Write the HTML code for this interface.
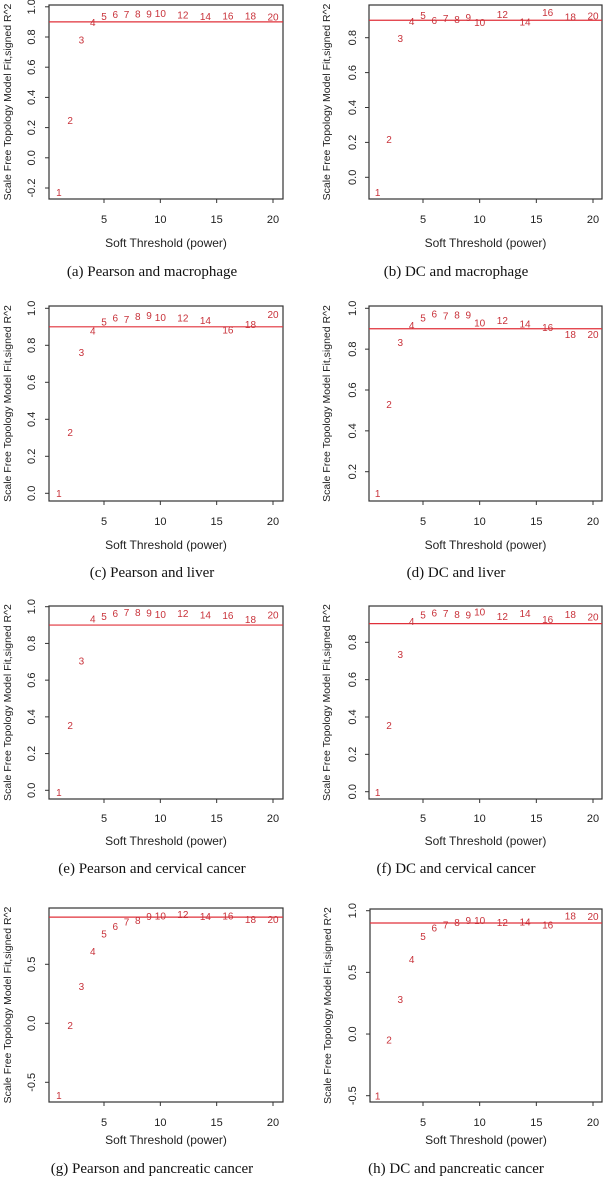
<!DOCTYPE html>
<html><head><meta charset="utf-8"><style>
html,body{margin:0;padding:0;background:#fff;}
svg{display:block;}
</style></head><body>
<svg id="fig" width="608" height="1179" viewBox="0 0 608 1179" xmlns="http://www.w3.org/2000/svg"></svg>
<script>
const powers = [1,2,3,4,5,6,7,8,9,10,12,14,16,18,20];
const xTicks = [5,10,15,20];
const seriesA = [-0.23,0.246,0.78,0.895,0.935,0.948,0.948,0.952,0.952,0.957,0.945,0.935,0.94,0.94,0.933];
const seriesB = [-0.088,0.218,0.795,0.894,0.926,0.898,0.91,0.905,0.917,0.886,0.934,0.89,0.944,0.92,0.925];
const seriesC = [0,0.328,0.76,0.876,0.926,0.948,0.94,0.955,0.962,0.951,0.948,0.933,0.883,0.912,0.966];
const seriesD = [0.094,0.53,0.832,0.917,0.953,0.972,0.962,0.966,0.966,0.927,0.94,0.923,0.907,0.871,0.871];
const seriesE = [-0.011,0.352,0.704,0.933,0.947,0.962,0.969,0.969,0.965,0.958,0.962,0.955,0.951,0.929,0.955];
const seriesF = [-0.004,0.354,0.736,0.911,0.946,0.957,0.954,0.95,0.946,0.961,0.939,0.954,0.921,0.95,0.936];
const seriesG = [-0.61,-0.017,0.311,0.61,0.757,0.819,0.859,0.87,0.904,0.91,0.921,0.904,0.91,0.881,0.881];
const seriesH = [-0.503,-0.049,0.281,0.605,0.789,0.859,0.886,0.903,0.919,0.919,0.903,0.908,0.886,0.957,0.951];
const yTicksA = [-0.2,0,0.2,0.4,0.6,0.8,1.0];
const yTicksB = [0,0.2,0.4,0.6,0.8];
const yTicksCE = [0,0.2,0.4,0.6,0.8,1.0];
const yTicksD = [0.2,0.4,0.6,0.8,1.0];
const yTicksF = [0,0.2,0.4,0.6,0.8];
const yTicksG = [-0.5,0,0.5];
const yTicksH = [-0.5,0,0.5,1.0];
const threshold = 0.9;
const captions = ["(a) Pearson and macrophage","(b) DC and macrophage","(c) Pearson and liver","(d) DC and liver","(e) Pearson and cervical cancer","(f) DC and cervical cancer","(g) Pearson and pancreatic cancer","(h) DC and pancreatic cancer"];

const NS="http://www.w3.org/2000/svg";
const svg=document.getElementById('fig');
function mk(tag,attrs,parent){const e=document.createElementNS(NS,tag);for(const k in attrs)e.setAttribute(k,attrs[k]);(parent||svg).appendChild(e);return e;}

// layout: box + calibration (v1,p1,v2,p2) per panel
const panels=[
 {s:seriesA,yt:yTicksA,L:49,R:283,T:5,B:199,cal:[0.8,37,-0.2,188],xl:[104,273],tickY:219,titleY:243,capY:271,cx:152,ytx:31,yttx:7},
 {s:seriesB,yt:yTicksB,L:369,R:602,T:5,B:199,cal:[0.8,37.7,0,177.3],xl:[423,593],tickY:219,titleY:243,capY:271,cx:456,ytx:352,yttx:326},
 {s:seriesC,yt:yTicksCE,L:49,R:283,T:306,B:501,cal:[1,308.3,0,493.3],xl:[104,273],tickY:521,titleY:545,capY:572,cx:152,ytx:31,yttx:7},
 {s:seriesD,yt:yTicksD,L:369,R:602,T:306,B:501,cal:[1,308.3,0.2,471.7],xl:[423,593],tickY:521,titleY:545,capY:572,cx:456,ytx:352,yttx:326},
 {s:seriesE,yt:yTicksCE,L:49,R:283,T:606,B:799,cal:[1,606.7,0,790.3],xl:[104,273],tickY:818,titleY:841,capY:868,cx:152,ytx:31,yttx:7},
 {s:seriesF,yt:yTicksF,L:369,R:602,T:606,B:799,cal:[0.8,642.3,0,791.7],xl:[423,593],tickY:818,titleY:841,capY:868,cx:456,ytx:352,yttx:326},
 {s:seriesG,yt:yTicksG,L:49,R:283,T:908,B:1102,cal:[0.5,964.3,-0.5,1082.3],xl:[104,273],tickY:1122,titleY:1140,capY:1168,cx:152,ytx:31,yttx:7},
 {s:seriesH,yt:yTicksH,L:370,R:602,T:909,B:1102,cal:[1,910.7,-0.5,1095.7],xl:[423,593],tickY:1122,titleY:1140,capY:1168,cx:456,ytx:352,yttx:327}
];
const letters="abcdefgh";
panels.forEach((p,i)=>{
  const g=mk('g',{});
  
  
  const yS=v=>p.cal[1]+(v-p.cal[0])*(p.cal[3]-p.cal[1])/(p.cal[2]-p.cal[0]);
  const xS=v=>p.xl[0]+(v-5)*(p.xl[1]-p.xl[0])/15;
  const box=mk('rect',{x:p.L,y:p.T,width:p.R-p.L,height:p.B-p.T,fill:'none',stroke:'#333',"stroke-width":1.2},g);
  
  
  xTicks.forEach(t=>{
    const x=xS(t);
    mk('line',{x1:x,y1:p.B,x2:x,y2:p.B+4,stroke:'#333'},g);
    const tx=mk('text',{x:x,y:p.tickY+4,"text-anchor":"middle","font-family":"Liberation Sans, sans-serif","font-size":11,fill:'#222'},g);
    tx.textContent=t;
    
    
  });
  p.yt.forEach(t=>{
    const y=yS(t);
    mk('line',{x1:p.L-4,y1:y,x2:p.L,y2:y,stroke:'#333'},g);
    const tx=mk('text',{x:p.ytx,y:y,"text-anchor":"middle","font-family":"Liberation Sans, sans-serif","font-size":11,fill:'#222',transform:`rotate(-90 ${p.ytx} ${y}) translate(0 4)`},g);
    tx.textContent=t.toFixed(1);
    
    
  });
  const ym=(p.T+p.B)/2;
  const yt=mk('text',{x:p.yttx,y:ym,"text-anchor":"middle","font-family":"Liberation Sans, sans-serif","font-size":10.5,fill:'#222',transform:`rotate(-90 ${p.yttx} ${ym}) translate(0 4)`},g);
  yt.textContent="Scale Free Topology Model Fit,signed R^2";
  
  
  const xt=mk('text',{x:(p.L+p.R)/2,y:p.titleY+4,"text-anchor":"middle","font-family":"Liberation Sans, sans-serif","font-size":12,fill:'#222'},g);
  xt.textContent="Soft Threshold (power)";
  
  
  const ty=yS(threshold);
  const hl=mk('line',{x1:p.L,y1:ty,x2:p.R,y2:ty,stroke:'#e0303a',"stroke-width":1.2},g);
  
  
  p.s.forEach((v,j)=>{
    const t=mk('text',{x:xS(powers[j]),y:yS(v)+3.5,"text-anchor":"middle","font-family":"Liberation Sans, sans-serif","font-size":10,fill:'#c8323a'},g);
    t.textContent=powers[j];
    
    
  });
  const cap=mk('text',{x:p.cx,y:p.capY+5,"text-anchor":"middle","font-family":"Liberation Serif, serif","font-size":15,fill:'#111'},g);
  cap.textContent=captions[i];
  
  
});
</script>
</body></html>
